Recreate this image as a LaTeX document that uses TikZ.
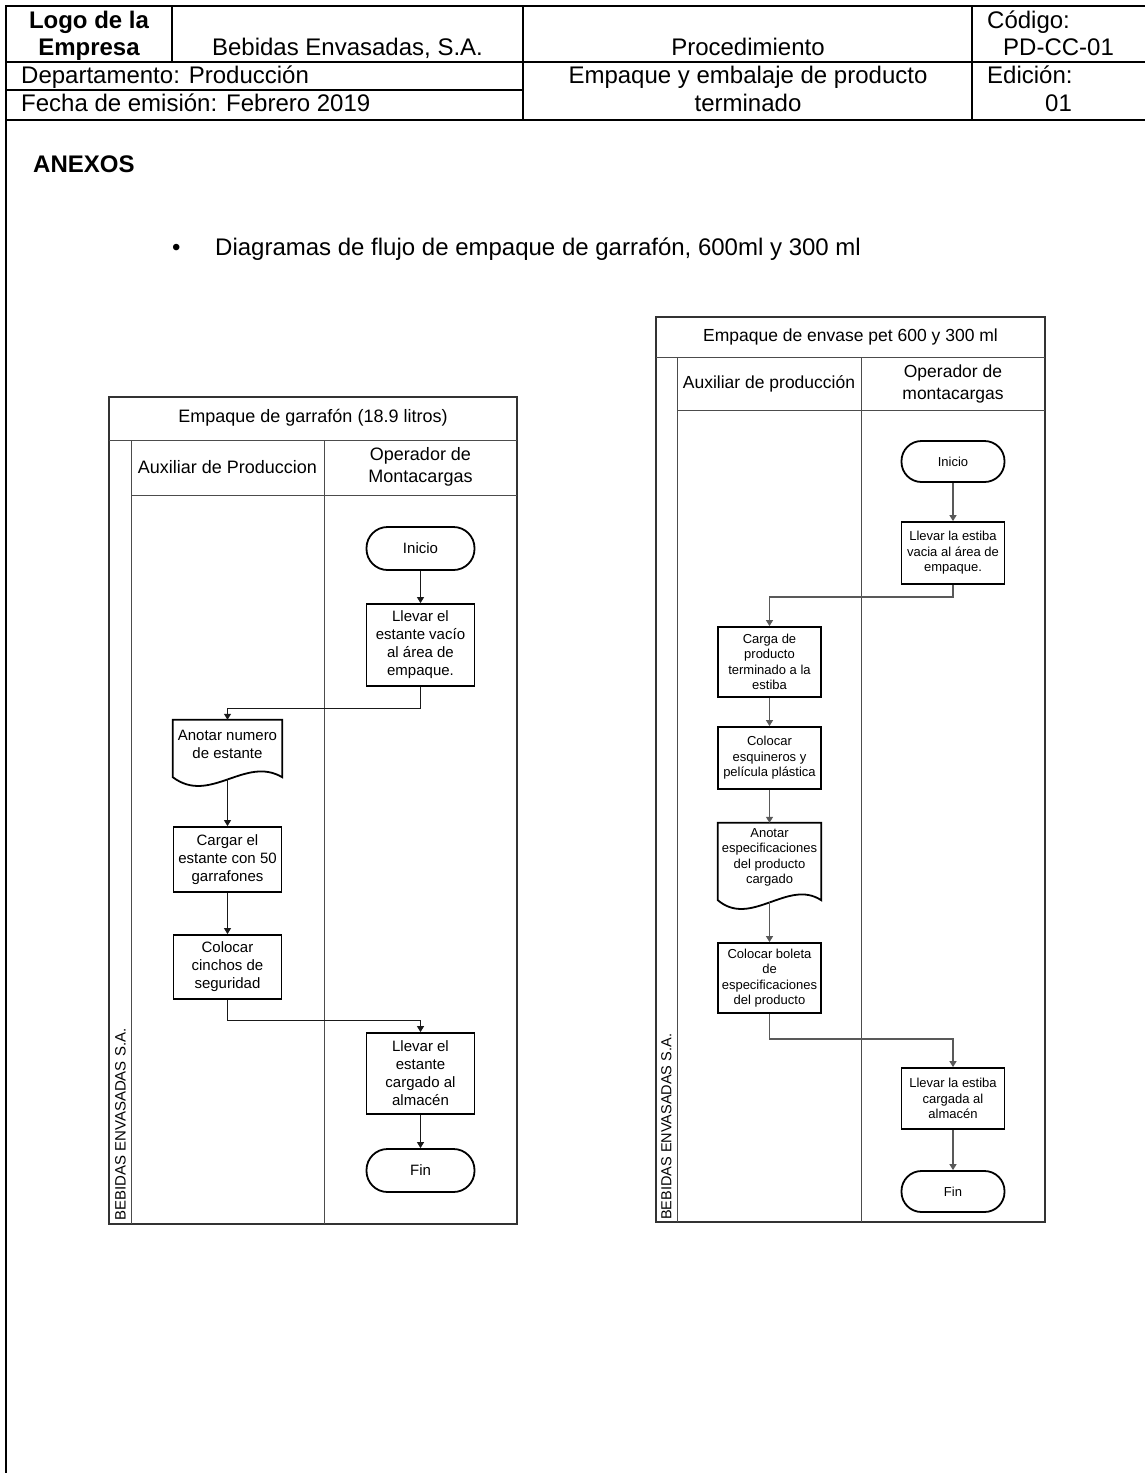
\documentclass[tikz,border=0pt]{standalone}
\usepackage{fontspec}
\setmainfont{Liberation Sans}
\usetikzlibrary{arrows.meta,calc}

\newcommand\fsz[2]{\fontsize{#1}{#2}\selectfont}

\begin{document}
\begin{tikzpicture}[x=1pt,y=-1pt,
  % header table
  rule/.style={line width=2.1pt, black},
  hdr/.style={font=\fsz{24}{27}, inner sep=0},
  hdrb/.style={hdr, font=\fsz{24}{27}\bfseries},
  % swimlane frames
  frame/.style={line width=1.3pt, black!80},
  lane/.style={line width=1pt, black!70},
  % left chart
  titleL/.style={font=\fsz{18}{22}, inner sep=0, align=center},
  procL/.style={draw, line width=1.8pt, minimum width=108pt, inner sep=0,
    align=center, font=\fsz{15}{18}},
  termL/.style={procL, minimum height=43pt, rounded corners=21pt},
  docL/.style={minimum width=109pt, minimum height=48pt, inner sep=0,
    align=center, font=\fsz{15}{18}},
  flowL/.style={line width=1pt, black!90, -{Triangle[length=6pt,width=7pt]}},
  % right chart
  titleR/.style={font=\fsz{17.5}{22}, inner sep=0, align=center},
  procR/.style={draw, line width=1.8pt, minimum width=103pt, inner sep=0,
    align=center, font=\fsz{13}{15.5}},
  termR/.style={procR, minimum height=41pt, rounded corners=20pt},
  docR/.style={minimum width=103pt, minimum height=69pt, inner sep=0,
    align=center, font=\fsz{13}{15.5}},
  flowR/.style={line width=1.2pt, black!65, -{Triangle[length=6pt,width=7pt]}},
  strip/.style={inner sep=0, rotate=90, anchor=west},
]
\useasboundingbox[fill=white] (0,0) rectangle (1145,1473);

% ---------------- header table ----------------
\draw[rule] (6,1473) -- (6,6) -- (1145,6);
\draw[rule] (6,62) -- (1145,62);
\draw[rule] (6,90) -- (523,90);
\draw[rule] (6,120) -- (1145,120);
\draw[rule] (172,6) -- (172,62);
\draw[rule] (523,6) -- (523,120);
\draw[rule] (972,6) -- (972,120);

\node[hdrb, anchor=base] (logo1) at (89,28) {Logo de la};
\node[hdrb, anchor=base] (logo2) at (89,55) {Empresa};
\node[hdr, anchor=base] (empresa) at (347.5,55) {Bebidas Envasadas, S.A.};
\node[hdr, anchor=base] (proc) at (748,55) {Procedimiento};
\node[hdr, anchor=base west] (cod1) at (987,28) {Código:};
\node[hdr, anchor=base west] (cod2) at (1003,55) {PD-CC-01};
\node[hdr, anchor=base west] (depto) at (21,83) {Departamento: Producción};
\node[hdr, anchor=base west] (fecha) at (21,111) {Fecha de emisión: Febrero 2019};
\node[hdr, anchor=base] (tit1) at (748,83) {Empaque y embalaje de producto};
\node[hdr, anchor=base] (tit2) at (748,111) {terminado};
\node[hdr, anchor=base west] (ed1) at (987,83) {Edición:};
\node[hdr, anchor=base west] (ed2) at (1045,111) {01};

\node[hdrb, anchor=base west] (anexos) at (33,172) {ANEXOS};
\node[hdr, anchor=base west] (bullet) at (172,255) {•};
\node[hdr, anchor=base west] (item) at (215,255) {Diagramas de flujo de empaque de garrafón, 600ml y 300 ml};

% ---------------- left chart: garrafón ----------------
\draw[frame] (109,397) rectangle (517,1224);
\draw[lane] (109,440) -- (517,440);
\draw[lane] (131,440) -- (131,1224);
\draw[lane] (131,495) -- (517,495);
\draw[lane] (324,440) -- (324,1224);

\node[titleL] (gtitle) at (313,418) {Empaque de garrafón (18.9 litros)};
\node[titleL] (glane1) at (227.5,467) {Auxiliar de Produccion};
\node[titleL] (glane2) at (420.5,467) {Operador de\\Montacargas};
\node[strip, font=\fsz{15}{18}] (gstrip) at (120.5,1221) {BEBIDAS ENVASADAS S.A.};

\node[termL] (a1) at (420.5,548.5) {Inicio};
\node[procL, minimum height=82pt] (a2) at (420.5,645) {Llevar el\\estante vacío\\al área de\\empaque.};
\node[docL] (a3) at (227.5,744) {Anotar numero\\de estante};
\draw[line width=1.8pt]
  ($(a3.south west)+(0,9)$) -- (a3.north west) -- (a3.north east)
  -- ($(a3.south east)+(0,9)$)
  .. controls ($(a3.south east)+(-37,-13)$) and ($(a3.south west)+(37,37)$)
  .. ($(a3.south west)+(0,9)$) -- cycle;
\coordinate (a3out) at ($(a3.south)+(0,11)$);
\node[procL, minimum height=65pt] (a4) at (227.5,859.5) {Cargar el\\estante con 50\\garrafones};
\node[procL, minimum height=64pt] (a5) at (227.5,967) {Colocar\\cinchos de\\seguridad};
\node[procL, minimum height=81pt] (a6) at (420.5,1073.5) {Llevar el\\estante\\cargado al\\almacén};
\node[termL] (a7) at (420.5,1170.5) {Fin};

\draw[flowL] (a1) -- (a2);
\draw[flowL] (a2.south) -- ++(0,22) -| (a3.north);
\draw[flowL] (a3out) -- (a4);
\draw[flowL] (a4) -- (a5);
\draw[flowL] (a5.south) -- ++(0,21) -| (a6.north);
\draw[flowL] (a6) -- (a7);

% ---------------- right chart: envase pet ----------------
\draw[frame] (656,317) rectangle (1045,1222);
\draw[lane] (656,357) -- (1045,357);
\draw[lane] (677,357) -- (677,1222);
\draw[lane] (677,410) -- (1045,410);
\draw[lane] (861,357) -- (861,1222);

\node[titleR] (ptitle) at (850.5,337) {Empaque de envase pet 600 y 300 ml};
\node[titleR] (plane1) at (769,384) {Auxiliar de producción};
\node[titleR] (plane2) at (953,384) {Operador de\\montacargas};
\node[strip, font=\fsz{14.5}{18}] (pstrip) at (666.5,1220) {BEBIDAS ENVASADAS S.A.};

\node[termR] (b1) at (953,461.5) {Inicio};
\node[procR, minimum height=62pt] (b2) at (953,553) {Llevar la estiba\\vacia al área de\\empaque.};
\node[procR, minimum height=70pt] (b3) at (769.5,662) {Carga de\\producto\\terminado a la\\estiba};
\node[procR, minimum height=62pt] (b4) at (769.5,758) {Colocar\\esquineros y\\película plástica};
\node[docR] (b5) at (769.5,857.5) {Anotar\\especificaciones\\del producto\\cargado};
\draw[line width=1.8pt]
  ($(b5.south west)+(0,8)$) -- (b5.north west) -- (b5.north east)
  -- ($(b5.south east)+(0,8)$)
  .. controls ($(b5.south east)+(-33,-14)$) and ($(b5.south west)+(33,36)$)
  .. ($(b5.south west)+(0,8)$) -- cycle;
\coordinate (b5out) at ($(b5.south)+(0,10)$);
\node[procR, minimum height=70pt] (b6) at (769.5,978) {Colocar boleta\\de\\especificaciones\\del producto};
\node[procR, minimum height=61pt] (b7) at (953,1098.5) {Llevar la estiba\\cargada al\\almacén};
\node[termR] (b8) at (953,1191.5) {Fin};

\draw[flowR] (b1) -- (b2);
\draw[flowR] (b2.south) -- ++(0,12) -| (b3.north);
\draw[flowR] (b3) -- (b4);
\draw[flowR] (b4) -- (b5);
\draw[flowR] (b5out) -- (b6);
\draw[flowR] (b6.south) -- ++(0,25) -| (b7.north);
\draw[flowR] (b7) -- (b8);
\end{tikzpicture}
\end{document}
